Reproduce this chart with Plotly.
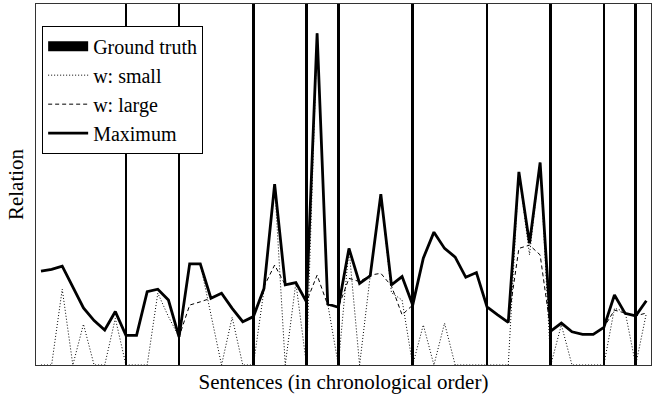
import plotly.graph_objects as go

sentences = list(range(58))

maximum = [26.0, 26.5, 27.4, 21.6, 15.8, 12.3, 9.7, 14.8, 8.2, 8.2,
           20.3, 21.0, 18.0, 7.8, 28.0, 28.0, 18.5, 19.9, 15.7, 12.0,
           13.4, 21.2, 50.1, 22.2, 22.8, 17.5, 91.9, 16.9, 16.0, 32.3,
           22.6, 24.7, 47.3, 22.2, 24.5, 16.6, 29.6, 36.8, 32.3, 29.9,
           24.3, 25.6, 16.1, 13.9, 11.8, 53.5, 33.7, 56.1, 9.4, 11.6,
           9.2, 8.5, 8.5, 10.4, 19.4, 14.3, 13.6, 17.8]

w_small = [0, 0, 21.0, 0, 11.3, 0, 0, 12.9, 0, 0,
           0, 19.9, 13.4, 7.8, 28.0, 28.0, 14.4, 0, 13.2, 0,
           0, 20.8, 50.1, 0, 22.8, 0, 91.9, 16.9, 0, 32.3,
           0, 24.7, 47.3, 20.0, 18.0, 0, 11.1, 0, 11.6, 0,
           0, 0, 0, 0, 0, 53.5, 30.5, 56.1, 0, 11.1,
           0, 0, 0, 0, 15.7, 14.8, 0, 14.3]

w_large = [26.0, 26.5, 27.4, 21.6, 15.8, 12.3, 9.7, 14.8, 8.2, 8.2,
           20.3, 21.0, 18.0, 7.8, 16.6, 17.5, 18.5, 19.9, 15.7, 12.0,
           13.4, 21.7, 27.7, 22.2, 22.8, 17.5, 24.9, 16.6, 16.0, 24.0,
           23.1, 24.9, 25.4, 21.9, 13.9, 16.6, 29.6, 36.8, 32.3, 29.9,
           24.3, 25.6, 16.1, 13.9, 11.8, 32.3, 33.2, 30.5, 9.4, 11.6,
           9.2, 8.5, 8.5, 10.4, 15.2, 14.4, 13.6, 14.4]

truth_idx = [8, 13, 20, 25, 28, 35, 42, 48, 53, 56]
truth_val = [100] * len(truth_idx)

serif = "Times New Roman, Liberation Serif, serif"

fig = go.Figure()
fig.add_trace(go.Bar(x=truth_idx, y=truth_val, width=0.24,
                     marker=dict(color="black", line=dict(width=0)),
                     showlegend=False, legendgroup="gt"))
fig.add_trace(go.Scatter(x=[None], y=[None], mode="lines", name="Ground truth",
                         line=dict(color="black", width=12), legendgroup="gt"))
fig.add_trace(go.Scatter(x=sentences, y=w_small, mode="lines", name="w: small",
                         line=dict(color="black", width=1, dash="1px,2px")))
fig.add_trace(go.Scatter(x=sentences, y=w_large, mode="lines", name="w: large",
                         line=dict(color="black", width=1, dash="4px,3px")))
fig.add_trace(go.Scatter(x=sentences, y=maximum, mode="lines", name="Maximum",
                         line=dict(color="black", width=2.8)))

fig.update_layout(
    width=664, height=403,
    margin=dict(l=36, r=13, t=4, b=38, autoexpand=False),
    paper_bgcolor="white", plot_bgcolor="white",
    font=dict(family=serif, size=21, color="black"),
    legend=dict(x=0.01, y=0.94, xanchor="left", yanchor="top",
                bgcolor="white", bordercolor="black", borderwidth=1,
                font=dict(family=serif, size=20), tracegroupgap=0,
                itemwidth=40),
    xaxis=dict(range=[-0.47, 57.44], showticklabels=False, ticks="",
               showgrid=False, zeroline=False, showline=True, mirror=True,
               linecolor="#333", linewidth=1, automargin=False,
               title=dict(text="Sentences (in chronological order)", standoff=9,
                          font=dict(family=serif, size=21))),
    yaxis=dict(range=[0, 100], showticklabels=False, ticks="",
               showgrid=False, zeroline=False, showline=True, mirror=True,
               linecolor="#333", linewidth=1, automargin=False,
               title=dict(text="Relation", standoff=5,
                          font=dict(family=serif, size=21))),
    bargap=0,
)

fig.write_html("out.html", config={"displayModeBar": False},
               post_script="document.body.style.margin='0px';")
